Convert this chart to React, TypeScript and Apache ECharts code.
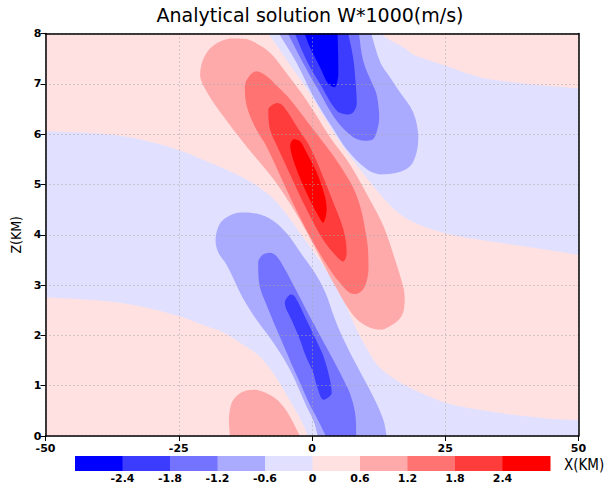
import React, { useEffect, useRef } from 'react';
import * as echarts from 'echarts';

// contour levels & palette (GrADS-like)
const levelLabels = ['-2.4', '-1.8', '-1.2', '-0.6', '0', '0.6', '1.2', '1.8', '2.4'];
const bandColors = ['#0000ff', '#3c3cff', '#7373ff', '#aaaaff', '#e1e1ff', '#ffe1e1', '#ffaaaa', '#ff7373', '#ff3c3c', '#ff0000'];
const xTickValues = [-50, -25, 0, 25, 50];

// contour regions, [x km, z km]; vertices past the frame are clipped away
const negLowerBand = [[-53, 6.08], [-50, 6.06], [-38.5, 6.0], [-32.3, 5.9], [-24.9, 5.68], [-19.8, 5.46], [-13.5, 5.17], [-10, 4.95], [-7.3, 4.72], [-4, 4.3], [-1, 3.85], [2, 3.4], [5.25, 2.85], [8, 2.2], [10.5, 1.7], [12.8, 1.35], [16, 1.1], [19, 0.93], [25.3, 0.65], [31.5, 0.52], [37.8, 0.42], [44, 0.35], [50, 0.32], [53, 0.31], [53, -0.4], [0, -0.4], [-0.8, 0], [-2, 0.3], [-3.5, 0.58], [-5.5, 0.95], [-7.3, 1.25], [-10, 1.6], [-13.5, 1.85], [-16.5, 2.05], [-19.8, 2.18], [-24.9, 2.38], [-32.3, 2.58], [-38.5, 2.68], [-50, 2.76], [-53, 2.78]];
const negUpperBand = [[-10.5, 8.35], [11, 8.35], [13, 8], [17.8, 7.68], [19, 7.58], [24.5, 7.38], [31.5, 7.13], [37.8, 7.03], [44, 6.96], [50, 6.91], [53, 6.89], [53, 3.57], [50, 3.6], [44, 3.7], [37.8, 3.8], [31.5, 3.9], [25.3, 4.02], [19, 4.25], [16, 4.45], [12.8, 4.8], [9, 5.3], [5.5, 5.8], [2.5, 6.3], [-1, 6.9], [-4.6, 7.45], [-8.2, 8]];
const upperM06 = [[-6.2, 8], [-7.9, 8.3], [10.2, 8.3], [11.1, 8], [12.8, 7.43], [14.5, 7.15], [16.5, 6.83], [19.0, 6.43], [19.95, 5.96], [19.6, 5.63], [18.4, 5.36], [15.9, 5.23], [12.8, 5.2], [10.3, 5.3], [6.5, 5.7], [4.0, 6.1], [0.25, 6.75], [-2.9, 7.42]];
const upperM12 = [[-4.5, 8], [-5.9, 8.3], [8.35, 8.3], [8.8, 8], [9.6, 7.46], [11.3, 7.0], [12.1, 6.8], [12.6, 6.4], [12.5, 6.2], [11.5, 5.9], [9.95, 5.87], [7.75, 5.94], [4.6, 6.27], [0.9, 6.93], [-1.9, 7.46]];
const upperM18 = [[-3.2, 8], [-4.4, 8.3], [6.2, 8.3], [6.8, 8], [7.75, 7.5], [8.2, 7.0], [8.4, 6.6], [7.6, 6.42], [6.5, 6.39], [4.6, 6.47], [1.5, 7.0], [-1.0, 7.46]];
const upperM24 = [[-1.4, 8], [-2.5, 8.3], [4.7, 8.3], [4.8, 8], [4.9, 7.6], [4.95, 7.2], [4.3, 6.93], [3.05, 7.0], [1.5, 7.33], [-0.4, 7.73]];
const lowerM06 = [[-18.1, 3.9], [-17.4, 4.2], [-16, 4.35], [-13.5, 4.44], [-10.4, 4.42], [-7.3, 4.28], [-4.5, 4.0], [-2.0, 3.62], [0.5, 3.25], [2.5, 2.85], [4.2, 2.35], [5.8, 1.95], [8.4, 1.4], [11.5, 0.78], [13.4, 0.32], [14, 0], [14.6, -0.3], [1.9, -0.3], [1.1, 0], [0.3, 0.3], [-1, 0.58], [-4.1, 1.31], [-7.2, 1.85], [-10.4, 2.31], [-13, 2.75], [-16, 3.4], [-17.6, 3.65]];
const lowerM12 = [[-10.1, 3.44], [-9.5, 3.58], [-7.9, 3.64], [-6.6, 3.57], [-5, 3.3], [-3.0, 2.9], [-0.8, 2.45], [1.5, 2.0], [4, 1.51], [6, 1.1], [7.1, 0.85], [8.1, 0.45], [8.3, 0], [8.45, -0.3], [4.0, -0.3], [2.6, 0], [1.2, 0.3], [-0.4, 0.62], [-2, 1.0], [-3.5, 1.35], [-5, 1.72], [-6.6, 2.11], [-8.5, 2.6], [-9.8, 2.97]];
const lowerM18 = [[-5.1, 2.64], [-4.1, 2.81], [-3.2, 2.77], [-1, 2.3], [0.8, 1.9], [2.1, 1.6], [3.3, 1.15], [3.7, 0.85], [2.1, 0.72], [0.9, 1.0], [0.25, 1.25], [-1.2, 1.6], [-2.25, 1.91], [-3.8, 2.3]];
const redP06 = [[-21, 7.16], [-20.4, 7.49], [-18.5, 7.76], [-15.4, 7.9], [-12.3, 7.89], [-9.1, 7.72], [-7, 7.52], [-5.4, 7.3], [-1, 6.67], [3.4, 5.94], [7.1, 5.4], [11.5, 4.57], [13.5, 4.15], [15.3, 3.6], [17.1, 2.97], [17.4, 2.71], [16.8, 2.38], [14.6, 2.18], [12.8, 2.11], [10.3, 2.18], [7.7, 2.4], [4.5, 2.95], [1.5, 3.55], [-1.5, 4.15], [-4, 4.6], [-6.5, 5.0], [-9.1, 5.35], [-13, 5.85], [-16.6, 6.35], [-19.5, 6.8]];
const redP12 = [[-12.6, 6.96], [-11.8, 7.15], [-10.4, 7.25], [-8.5, 7.15], [-6.5, 6.95], [-4.1, 6.69], [0.25, 6.09], [4.9, 5.43], [8.4, 4.77], [10.3, 3.9], [10.6, 3.31], [9.8, 2.95], [8.4, 2.82], [7.1, 2.84], [5.2, 3.05], [3.4, 3.3], [0.5, 3.8], [-2.5, 4.4], [-5, 4.95], [-8.5, 5.75], [-10.5, 6.1], [-12.25, 6.56]];
const redP18 = [[-8.2, 6.49], [-6.6, 6.62], [-5.4, 6.56], [-2.25, 6.05], [-0.4, 5.75], [1.5, 5.3], [4, 4.64], [5.9, 4.1], [6.5, 3.64], [5.9, 3.47], [4.6, 3.57], [2.1, 3.9], [-1, 4.5], [-4.1, 5.2], [-6.5, 5.75], [-7.9, 6.1]];
const redP24 = [[-3.5, 5.9], [-2.25, 5.86], [-1, 5.63], [0.9, 5.23], [2.4, 4.77], [2.75, 4.5], [2.1, 4.24], [0.9, 4.43], [-1, 4.83], [-2.9, 5.3], [-4.1, 5.76]];
const lowPinkP06 = [[-15.3, -0.3], [-15.4, 0], [-15.6, 0.32], [-15.1, 0.65], [-14.1, 0.8], [-12.5, 0.9], [-10.4, 0.92], [-7.3, 0.78], [-5.5, 0.6], [-4.1, 0.38], [-2.25, 0], [-0.8, -0.3]];

// [band index into bandColors, polygon] in drawing order
const regions: [number, number[][]][] = [
  [4, negLowerBand], [4, negUpperBand],
  [3, upperM06], [2, upperM12], [1, upperM18], [0, upperM24],
  [3, lowerM06], [2, lowerM12], [1, lowerM18],
  [6, redP06], [7, redP12], [8, redP18], [9, redP24],
  [6, lowPinkP06],
];

export default function App() {
  const ref = useRef<HTMLDivElement>(null);
  useEffect(() => {
    document.body.style.margin = '0';
    const chart = echarts.init(ref.current!, undefined, { renderer: 'svg' });
    const cbX = 75, cbW = 47.5, cbY = 456, cbH = 15;
    const graphics: any[] = [];
    bandColors.forEach((c, i) => {
      graphics.push({ type: 'rect', x: cbX + i * cbW, y: cbY, shape: { width: cbW + 0.5, height: cbH }, style: { fill: c }, silent: true });
    });
    levelLabels.forEach((t, i) => {
      graphics.push({ type: 'text', x: cbX + (i + 1) * cbW, y: cbY + cbH + 2, style: { text: t, fill: '#000', font: 'bold 11px "DejaVu Sans"', textAlign: 'center', textVerticalAlign: 'top' }, silent: true });
    });
    graphics.push({ type: 'text', x: 564, y: cbY + 1, style: { text: 'X(KM)', fill: '#000', font: '15px "DejaVu Sans Condensed", "DejaVu Sans"', textAlign: 'left', textVerticalAlign: 'top' } });
    graphics.push({ type: 'text', x: 310, y: 5, style: { text: 'Analytical solution W*1000(m/s)', fill: '#000', font: '19px "DejaVu Sans"', textAlign: 'center', textVerticalAlign: 'top' } });

    const axisBase = {
      axisLine: { show: true, onZero: false, lineStyle: { color: '#000', width: 1.5 } },
      z: 5,
    };
    chart.setOption({
      animation: false,
      backgroundColor: '#fff',
      grid: { left: 45.5, right: 27.5, top: 33.5, bottom: 53, show: true, backgroundColor: '#ffe1e1', borderWidth: 0 },
      xAxis: [
        {
          ...axisBase, type: 'value', min: -50, max: 50, interval: 25, position: 'bottom',
          axisTick: { show: true, length: 5, inside: false, lineStyle: { color: '#000', width: 1 } },
          axisLabel: { color: '#000', fontSize: 11, fontWeight: 'bold', fontFamily: 'DejaVu Sans', margin: 7, showMinLabel: true, showMaxLabel: true,
            formatter: (v: number) => (xTickValues.includes(v) ? String(v) : '') },
          splitLine: { show: true, lineStyle: { color: '#a8a8a8', type: [1, 3], width: 1 } },
        },
        { ...axisBase, type: 'value', min: -50, max: 50, position: 'top', axisTick: { show: false }, axisLabel: { show: false }, splitLine: { show: false } },
      ],
      yAxis: [
        {
          ...axisBase, type: 'value', min: 0, max: 8, interval: 1, position: 'left',
          name: 'Z(KM)', nameLocation: 'middle', nameGap: 22, nameRotate: 90,
          nameTextStyle: { color: '#000', fontSize: 14, fontFamily: 'DejaVu Sans Condensed, DejaVu Sans' },
          axisTick: { show: true, length: 5, lineStyle: { color: '#000', width: 1 } },
          axisLabel: { color: '#000', fontSize: 11, fontWeight: 'bold', fontFamily: 'DejaVu Sans', margin: 4 },
          splitLine: { show: true, lineStyle: { color: '#a8a8a8', type: [1, 3], width: 1 } },
        },
        { ...axisBase, type: 'value', min: 0, max: 8, position: 'right', axisTick: { show: false }, axisLabel: { show: false }, splitLine: { show: false } },
      ],
      series: [
        {
          type: 'custom',
          coordinateSystem: 'cartesian2d',
          clip: true,
          silent: true,
          data: regions.map((r) => r[1][0]),
          renderItem: (params: any, api: any) => {
            const r = regions[params.dataIndex];
            const pts = r[1].map((p) => api.coord(p));
            const mn = [Infinity, Infinity];
            const mx = [-Infinity, -Infinity];
            pts.forEach((p: number[]) => {
              mn[0] = Math.min(mn[0], p[0]); mn[1] = Math.min(mn[1], p[1]);
              mx[0] = Math.max(mx[0], p[0]); mx[1] = Math.max(mx[1], p[1]);
            });
            return {
              type: 'polygon',
              shape: { points: pts, smooth: 0.35, smoothConstraint: [mn, mx] },
              style: { fill: bandColors[r[0]], stroke: 'none' },
            };
          },
        },
      ],
      graphic: graphics,
    });
    return () => chart.dispose();
  }, []);
  return <div ref={ref} style={{ width: 606, height: 489 }} />;
}
